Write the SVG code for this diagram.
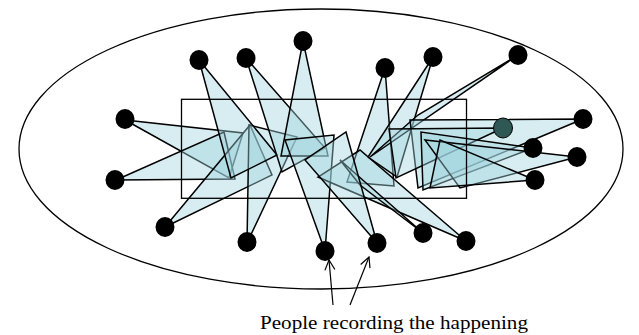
<svg xmlns="http://www.w3.org/2000/svg" width="639" height="335" viewBox="0 0 639 335">
<defs>
<style>
.tri{fill:#9fd3de;fill-opacity:0.42;stroke:#000;stroke-width:1.5;stroke-linejoin:miter}
.dot{fill:#000}
.frame{fill:none;stroke:#000;stroke-width:1.3}
.arr{fill:none;stroke:#000;stroke-width:1.2}
.lbl{font-family:"Liberation Serif","Times New Roman",serif;font-size:18px;fill:#000}
</style>
<marker id="open" viewBox="0 0 12 12" refX="11" refY="6" markerWidth="12" markerHeight="12" markerUnits="userSpaceOnUse" orient="auto">
<path d="M1,1 L11,6 L1,11" fill="none" stroke="#000" stroke-width="1.2"/>
</marker>
</defs>
<rect width="639" height="335" fill="#fff"/>
<ellipse class="frame" cx="321" cy="149" rx="302" ry="140"/>
<g id="connectors">
<polygon class="tri" points="125,120 243,133 229,178"/>
<polygon class="tri" points="116,180 224,132 235,179"/>
<polygon class="tri" points="165,227 250,125 272,175"/>
<polygon class="tri" points="247,243 249,125 297,137"/>
<polygon class="tri" points="199,60 231,178 277,155"/>
<polygon class="tri" points="246,58 282,172 325,148"/>
<polygon class="tri" points="303,41 281,156 328,156"/>
<polygon class="tri" points="325,251 285,140 334,135"/>
<polygon class="tri" points="385,68 347,182 394,186"/>
<polygon class="tri" points="433,57 368,157 397,177"/>
<polygon class="tri" points="518,55 418,115 370,157"/>
<polygon class="tri" points="583,119 410,120 418,188"/>
<polygon class="tri" points="503,128 389,129 396,178"/>
<polygon class="tri" points="533,148 421,132 423,190"/>
<polygon class="tri" points="577,157 425,140 460,188"/>
<polygon class="tri" points="535,180 440,140 430,188"/>
<polygon class="tri" points="466,241 318,177 360,150"/>
<polygon class="tri" points="423,233 340,160 360,185"/>
<polygon class="tri" points="377,243 346,132 305,160"/>
<line class="arr" x1="333" y1="305" x2="329" y2="260" marker-end="url(#open)"/>
<line class="arr" x1="350" y1="305" x2="369" y2="257" marker-end="url(#open)"/>
</g>
<rect id="stage" class="frame" x="181.5" y="99.3" width="285" height="99"/>
<g id="people">
<ellipse id="p1" class="dot" cx="125" cy="119" rx="9.5" ry="10"/>
<ellipse id="p2" class="dot" cx="115" cy="180" rx="9.5" ry="10"/>
<ellipse id="p3" class="dot" cx="165" cy="227" rx="9.5" ry="10"/>
<ellipse id="p4" class="dot" cx="247" cy="242" rx="9.5" ry="10"/>
<ellipse id="p5" class="dot" cx="199" cy="60" rx="9.5" ry="10"/>
<ellipse id="p6" class="dot" cx="246" cy="58" rx="9.5" ry="10"/>
<ellipse id="p7" class="dot" cx="303" cy="41" rx="9.5" ry="10"/>
<ellipse id="p8" class="dot" cx="385" cy="68" rx="9.5" ry="10"/>
<ellipse id="p9" class="dot" cx="433" cy="57" rx="9.5" ry="10"/>
<ellipse id="p10" class="dot" cx="518" cy="55" rx="9.5" ry="10"/>
<ellipse id="p11" class="dot" cx="583" cy="119" rx="9.5" ry="10"/>
<ellipse id="p12" cx="503" cy="128" rx="9.5" ry="10" fill="#2f5753" stroke="#000" stroke-width="1"/>
<ellipse id="p13" class="dot" cx="533" cy="148" rx="9.5" ry="10"/>
<ellipse id="p14" class="dot" cx="577" cy="157" rx="9.5" ry="10"/>
<ellipse id="p15" class="dot" cx="535" cy="180" rx="9.5" ry="10"/>
<ellipse id="p16" class="dot" cx="466" cy="241" rx="9.5" ry="10"/>
<ellipse id="p17" class="dot" cx="423" cy="233" rx="9.5" ry="10"/>
<ellipse id="p18" class="dot" cx="377" cy="243" rx="9.5" ry="10"/>
<ellipse id="p19" class="dot" cx="325" cy="251" rx="9.5" ry="10"/>
</g>
<text id="caption" class="lbl" x="260" y="329" textLength="268" lengthAdjust="spacingAndGlyphs">People recording the happening</text>
</svg>
